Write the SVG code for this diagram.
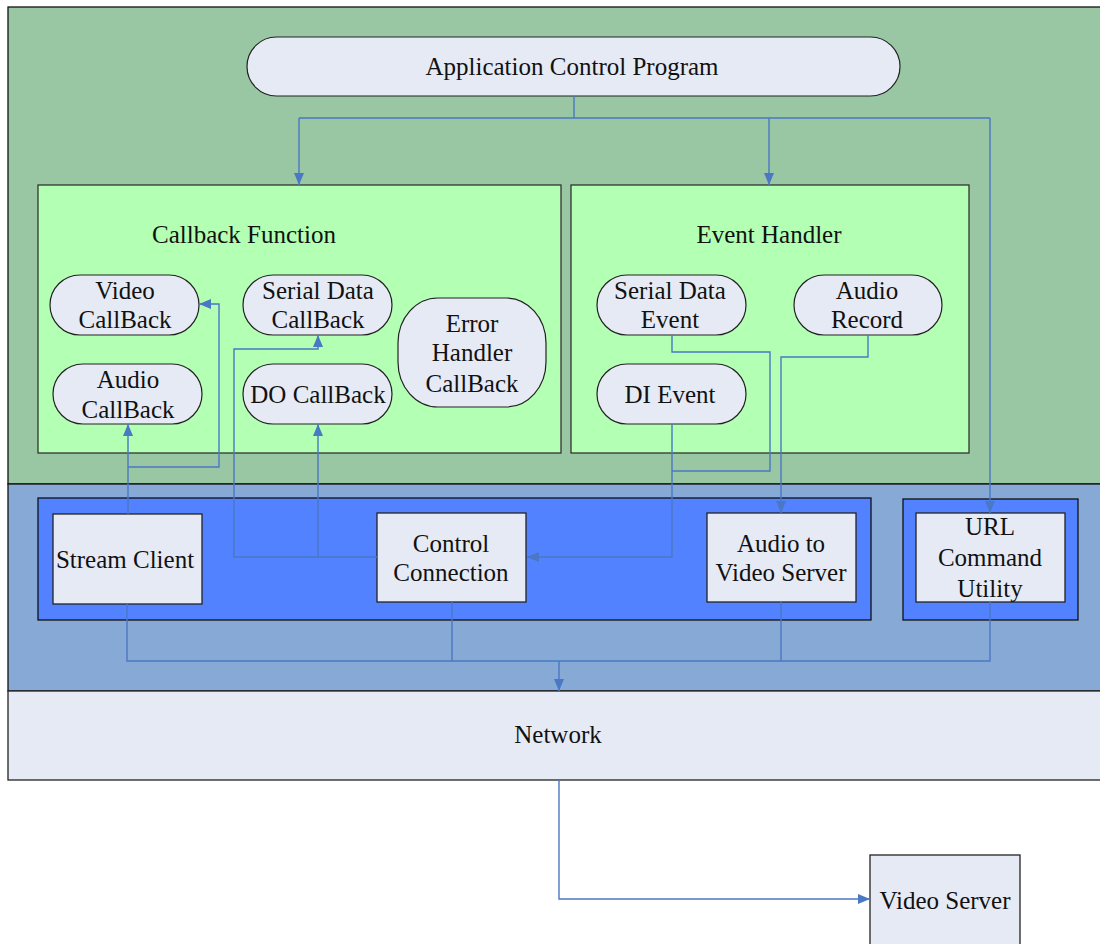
<svg xmlns="http://www.w3.org/2000/svg" width="1100" height="944" viewBox="0 0 1100 944">
<style>
text{font-family:"Liberation Serif","Times New Roman",serif;font-size:25px;fill:#111;text-anchor:middle}
.pill{fill:#e6eaf5;stroke:#222;stroke-width:1.2}
.box{fill:#e6eaf5;stroke:#222;stroke-width:1.3}
.grp{fill:#b3ffb3;stroke:#333;stroke-width:1.3}
.blu{fill:#5282ff;stroke:#111;stroke-width:1.3}
.c{fill:none;stroke:#4a78c4;stroke-width:1.4}
.a{fill:none;stroke:#4a78c4;stroke-width:1.4;marker-end:url(#ah)}
</style>
<defs>
<marker id="ah" markerUnits="userSpaceOnUse" markerWidth="12" markerHeight="10" refX="12" refY="5" orient="auto">
<path d="M0,0 L12,5 L0,10 z" fill="#4a78c4"/>
</marker>
</defs>
<rect width="1100" height="944" fill="#fff"/>
<g id="app-layer"><rect x="8" y="7" width="1100" height="477" fill="#9ac7a3" stroke="#111" stroke-width="1.3"/></g>
<g id="sdk-layer"><rect x="8" y="484" width="1100" height="207" fill="#87a9d5" stroke="#111" stroke-width="1.3"/></g>
<g id="network"><rect x="8" y="691" width="1100" height="89" fill="#e6eaf5" stroke="#222" stroke-width="1.3"/><text x="558" y="743">Network</text></g>

<g id="app-control"><rect class="pill" x="247" y="37" width="653" height="59" rx="29.5"/><text x="572" y="75">Application Control Program</text></g>

<g id="callback-function"><rect class="grp" x="38" y="185" width="523" height="268"/><text x="244" y="243">Callback Function</text></g>
<g id="event-handler"><rect class="grp" x="571" y="185" width="398" height="268"/><text x="769" y="243">Event Handler</text></g>

<g id="video-callback"><rect class="pill" x="50" y="275" width="149" height="60" rx="30"/><text x="125" y="299">Video</text><text x="125" y="328">CallBack</text></g>
<g id="serial-callback"><rect class="pill" x="243" y="275" width="149" height="60" rx="30"/><text x="318" y="299">Serial Data</text><text x="318" y="328">CallBack</text></g>
<g id="error-callback"><rect class="pill" x="398" y="298" width="148" height="109" rx="40" ry="45"/><text x="472" y="332">Error</text><text x="472" y="361">Handler</text><text x="472" y="392">CallBack</text></g>
<g id="audio-callback"><rect class="pill" x="53" y="364" width="149" height="60" rx="30"/><text x="128" y="388">Audio</text><text x="128" y="418">CallBack</text></g>
<g id="do-callback"><rect class="pill" x="243" y="364" width="149" height="60" rx="30"/><text x="318" y="403">DO CallBack</text></g>

<g id="serial-event"><rect class="pill" x="597" y="275" width="149" height="60" rx="30"/><text x="670" y="299">Serial Data</text><text x="670" y="328">Event</text></g>
<g id="audio-record"><rect class="pill" x="794" y="275" width="148" height="60" rx="30"/><text x="867" y="299">Audio</text><text x="867" y="328">Record</text></g>
<g id="di-event"><rect class="pill" x="597" y="364" width="149" height="60" rx="30"/><text x="670" y="403">DI Event</text></g>

<g id="sdk-group"><rect class="blu" x="38" y="498" width="833" height="122"/></g>
<g id="url-group"><rect class="blu" x="903" y="499" width="175" height="121"/></g>
<g id="stream-client"><rect class="box" x="53" y="514" width="149" height="90"/><text x="125" y="568">Stream Client</text></g>
<g id="control-connection"><rect class="box" x="377" y="513" width="149" height="89"/><text x="451" y="552">Control</text><text x="451" y="581">Connection</text></g>
<g id="audio-to-server"><rect class="box" x="707" y="513" width="149" height="89"/><text x="781" y="552">Audio to</text><text x="781" y="581">Video Server</text></g>
<g id="url-command"><rect class="box" x="916" y="513" width="149" height="89"/><text x="990" y="535">URL</text><text x="990" y="566">Command</text><text x="990" y="597">Utility</text></g>

<g id="video-server"><rect class="box" x="870" y="855" width="150" height="100"/><text x="945" y="909">Video Server</text></g>

<g id="connectors">
<path class="c" d="M574,96 V118 M299,118 H990"/>
<path class="a" d="M299,118 V185"/>
<path class="a" d="M769,118 V185"/>
<path class="a" d="M990,118 V513"/>
<path class="a" d="M128,514 V424"/>
<path class="a" d="M128,467 H219 V304 H199"/>
<path class="a" d="M377,557 H234 V349 H318 V335"/>
<path class="a" d="M318,557 V424"/>
<path class="c" d="M672,335 V352 H770 V471 H672"/>
<path class="a" d="M672,424 V557 H527"/>
<path class="a" d="M868,335 V357 H781 V513"/>
<path class="c" d="M127,604 V661 H990 V602 M452,602 V661 M781,602 V661"/>
<path class="a" d="M559,661 V691"/>
<path class="a" d="M559,780 V899 H870"/>
</g>
</svg>
